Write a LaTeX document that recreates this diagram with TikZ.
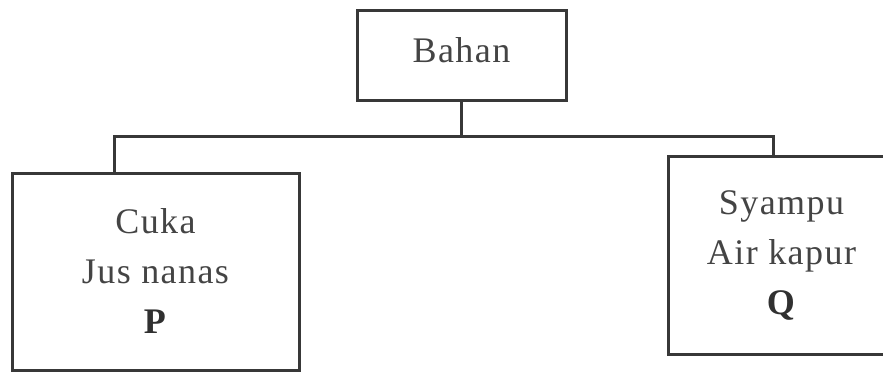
\documentclass[tikz,border=0pt]{standalone}
\usepackage{fontspec}
\setmainfont{Liberation Serif}[LetterSpace=4]
\definecolor{linec}{HTML}{383838}
\definecolor{textc}{HTML}{444444}
\definecolor{boldc}{HTML}{303030}
\begin{document}
\begin{tikzpicture}[x=1pt,y=-1pt,
  box/.style={draw=linec, line width=3pt, text=textc, align=center, inner sep=0pt,
    font=\fontsize{36}{50}\selectfont},
  link/.style={draw=linec, line width=3pt, line join=miter}]
\useasboundingbox (0,0) rectangle (883,375);
\node[box, minimum width=209pt, minimum height=90pt, text height=24pt, text depth=10pt] (bahan) at (461.5,55) {Bahan};
\node[box, minimum width=287pt, minimum height=197pt] (p) at (155.5,271.5) {Cuka\\Jus nanas\\\textcolor{boldc}{\textbf{P}}};
\node[box, minimum width=227pt, minimum height=198pt] (q) at (781.5,255) {Syampu\\Air kapur\\\textcolor{boldc}{\textbf{Q}}};
\coordinate (busL) at (114,136);
\coordinate (busR) at (773,136);
\draw[link] (bahan.south) -- (bahan.south |- busL);
\draw[link] (busL |- p.north) -- (busL) -- (busR) -- (busR |- q.north);
\end{tikzpicture}
\end{document}
